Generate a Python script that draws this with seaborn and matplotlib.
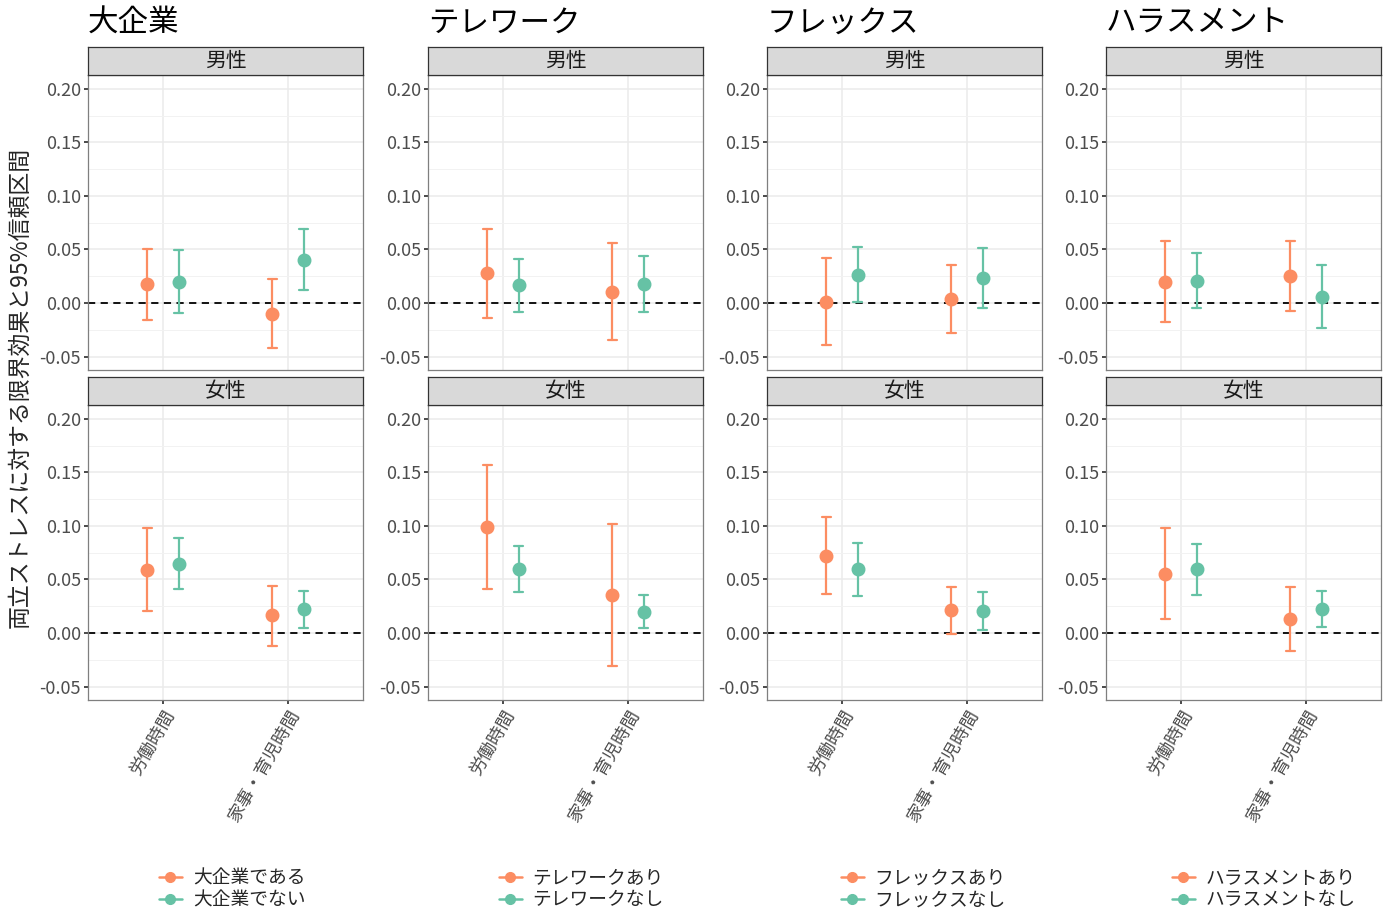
import numpy as np
import pandas as pd
import matplotlib
matplotlib.use("Agg")
import matplotlib.pyplot as plt
import seaborn as sns
from matplotlib.lines import Line2D

sns.set_theme(style="white")
plt.rcParams["font.family"] = ["Noto Sans CJK JP", "DejaVu Sans"]

# ---------------- data ----------------
factors = ["大企業", "テレワーク", "フレックス", "ハラスメント"]
sexes = ["男性", "女性"]
outcomes = ["労働時間", "家事・育児時間"]
group_labels = {
    "大企業": ["大企業である", "大企業でない"],
    "テレワーク": ["テレワークあり", "テレワークなし"],
    "フレックス": ["フレックスあり", "フレックスなし"],
    "ハラスメント": ["ハラスメントあり", "ハラスメントなし"],
}
# order within each list: [労働時間-あり, 労働時間-なし, 家事育児-あり, 家事育児-なし]
est_male = {
    "大企業": [0.0175, 0.020, -0.010, 0.0405],
    "テレワーク": [0.028, 0.0165, 0.0106, 0.0178],
    "フレックス": [0.0013, 0.026, 0.0037, 0.023],
    "ハラスメント": [0.020, 0.021, 0.025, 0.0059],
}
lo_male = {
    "大企業": [-0.0156, -0.0093, -0.042, 0.0121],
    "テレワーク": [-0.0137, -0.0081, -0.035, -0.008],
    "フレックス": [-0.0396, 0.0006, -0.0277, -0.005],
    "ハラスメント": [-0.018, -0.0044, -0.0075, -0.0234],
}
hi_male = {
    "大企業": [0.050, 0.0495, 0.022, 0.069],
    "テレワーク": [0.069, 0.041, 0.056, 0.044],
    "フレックス": [0.042, 0.052, 0.0358, 0.051],
    "ハラスメント": [0.058, 0.0467, 0.0576, 0.0358],
}
est_female = {
    "大企業": [0.0592, 0.0648, 0.0164, 0.022],
    "テレワーク": [0.0992, 0.0598, 0.0353, 0.0198],
    "フレックス": [0.0723, 0.0595, 0.0211, 0.0205],
    "ハラスメント": [0.0552, 0.0598, 0.0134, 0.0222],
}
lo_female = {
    "大企業": [0.0205, 0.041, -0.0118, 0.005],
    "テレワーク": [0.0415, 0.038, -0.031, 0.0043],
    "フレックス": [0.0366, 0.0348, -0.001, 0.0025],
    "ハラスメント": [0.0127, 0.0359, -0.0167, 0.0053],
}
hi_female = {
    "大企業": [0.098, 0.089, 0.0443, 0.0393],
    "テレワーク": [0.157, 0.0815, 0.102, 0.0356],
    "フレックス": [0.108, 0.0844, 0.0431, 0.0384],
    "ハラスメント": [0.0977, 0.0836, 0.0432, 0.039],
}
y_ticks = [-0.05, 0.00, 0.05, 0.10, 0.15, 0.20]
y_label = "両立ストレスに対する限界効果と95%信頼区間"

ORANGE = "#FC8D62"
GREEN = "#66C2A5"

# ---------------- build long table ----------------
rows = []
tables = {"男性": (est_male, lo_male, hi_male), "女性": (est_female, lo_female, hi_female)}
for f in factors:
    for s in sexes:
        e, l, h = tables[s]
        k = 0
        for o in outcomes:
            for g in group_labels[f]:
                for v in (l[f][k], e[f][k], h[f][k]):
                    rows.append({"factor": f, "sex": s, "outcome": o, "group": g, "value": v})
                k += 1
df = pd.DataFrame(rows)

# ---------------- layout ----------------
W, H = 1391, 915
fig = plt.figure(figsize=(W / 100, H / 100), dpi=100)

col_left = [88, 428, 767, 1106]
legend_marker_x = [170, 510, 852, 1183]
pw = 275
panel_top = {"男性": 75, "女性": 405}
ph = 295
strip_h = 28

def fx(px):
    return px / W

def fy(py):
    return 1 - py / H

tick_col = "#4D4D4D"
border_col = "#7F7F7F"

for ci, f in enumerate(factors):
    x0 = col_left[ci]
    fig.text(fx(x0), fy(23), f, fontsize=22, ha="left", va="center", color="black")
    for s in sexes:
        top = panel_top[s]
        ax = fig.add_axes([fx(x0), fy(top + ph), fx(pw), ph / H])
        sub = df[(df.factor == f) & (df.sex == s)]
        sns.pointplot(
            data=sub, x="outcome", y="value", hue="group",
            order=outcomes, hue_order=group_labels[f],
            palette=[ORANGE, GREEN],
            estimator="median",
            errorbar=lambda v: (v.min(), v.max()),
            dodge=0.25, linestyle="none", markers="o", markersize=8,
            capsize=0.07, err_kws={"linewidth": 1.6},
            legend=False, ax=ax,
        )
        ax.axhline(0, color="black", linestyle="--", linewidth=1.3, dashes=(4, 3), zorder=1)
        ax.set_xlim(-0.6, 1.6)
        ax.set_ylim(-0.0626, 0.213)
        ax.set_yticks(y_ticks)
        ax.set_yticklabels([f"{t:.2f}" for t in y_ticks])
        ax.set_yticks([-0.025, 0.025, 0.075, 0.125, 0.175], minor=True)
        ax.set_xlabel("")
        ax.set_ylabel("")
        ax.grid(which="major", color="#EBEBEB", linewidth=1.1)
        ax.grid(which="minor", axis="y", color="#F2F2F2", linewidth=0.7)
        ax.set_axisbelow(True)
        for sp in ax.spines.values():
            sp.set_color(border_col)
            sp.set_linewidth(0.9)
        ax.tick_params(axis="y", which="major", length=3, color="#333333",
                       labelsize=13, labelcolor=tick_col, pad=2, left=True)
        ax.tick_params(axis="y", which="minor", length=0)
        if s == "男性":
            ax.tick_params(axis="x", length=0, labelbottom=False)
        else:
            ax.tick_params(axis="x", length=3, color="#333333", bottom=True,
                           labelsize=13, labelcolor=tick_col, pad=2)
            for lab in ax.get_xticklabels():
                lab.set_rotation(60)
                lab.set_ha("right")
                lab.set_va("top")
                lab.set_rotation_mode("anchor")
        # strip
        sax = fig.add_axes([fx(x0), fy(top), fx(pw), strip_h / H])
        sax.set_facecolor("#D9D9D9")
        sax.set_xticks([])
        sax.set_yticks([])
        for sp in sax.spines.values():
            sp.set_color("#333333")
            sp.set_linewidth(0.9)
        sax.text(0.5, 0.5, s, transform=sax.transAxes, ha="center", va="center",
                 fontsize=15, color="#1A1A1A")
        if s == "女性":
            handles = [Line2D([0], [0], color=c, marker="o", markersize=7, linewidth=1.8)
                       for c in (ORANGE, GREEN)]
            fig.legend(handles, group_labels[f], loc="center left",
                       bbox_to_anchor=(fx(legend_marker_x[ci] - 11), fy(889)),
                       frameon=False, fontsize=13.5, handlelength=1.2,
                       labelspacing=0.05, handletextpad=0.6, borderpad=0,
                       borderaxespad=0)

fig.text(fx(20), fy(387), y_label, rotation=90, ha="center", va="center", fontsize=16.5)

fig.savefig("out.png", dpi=100, facecolor="white")
